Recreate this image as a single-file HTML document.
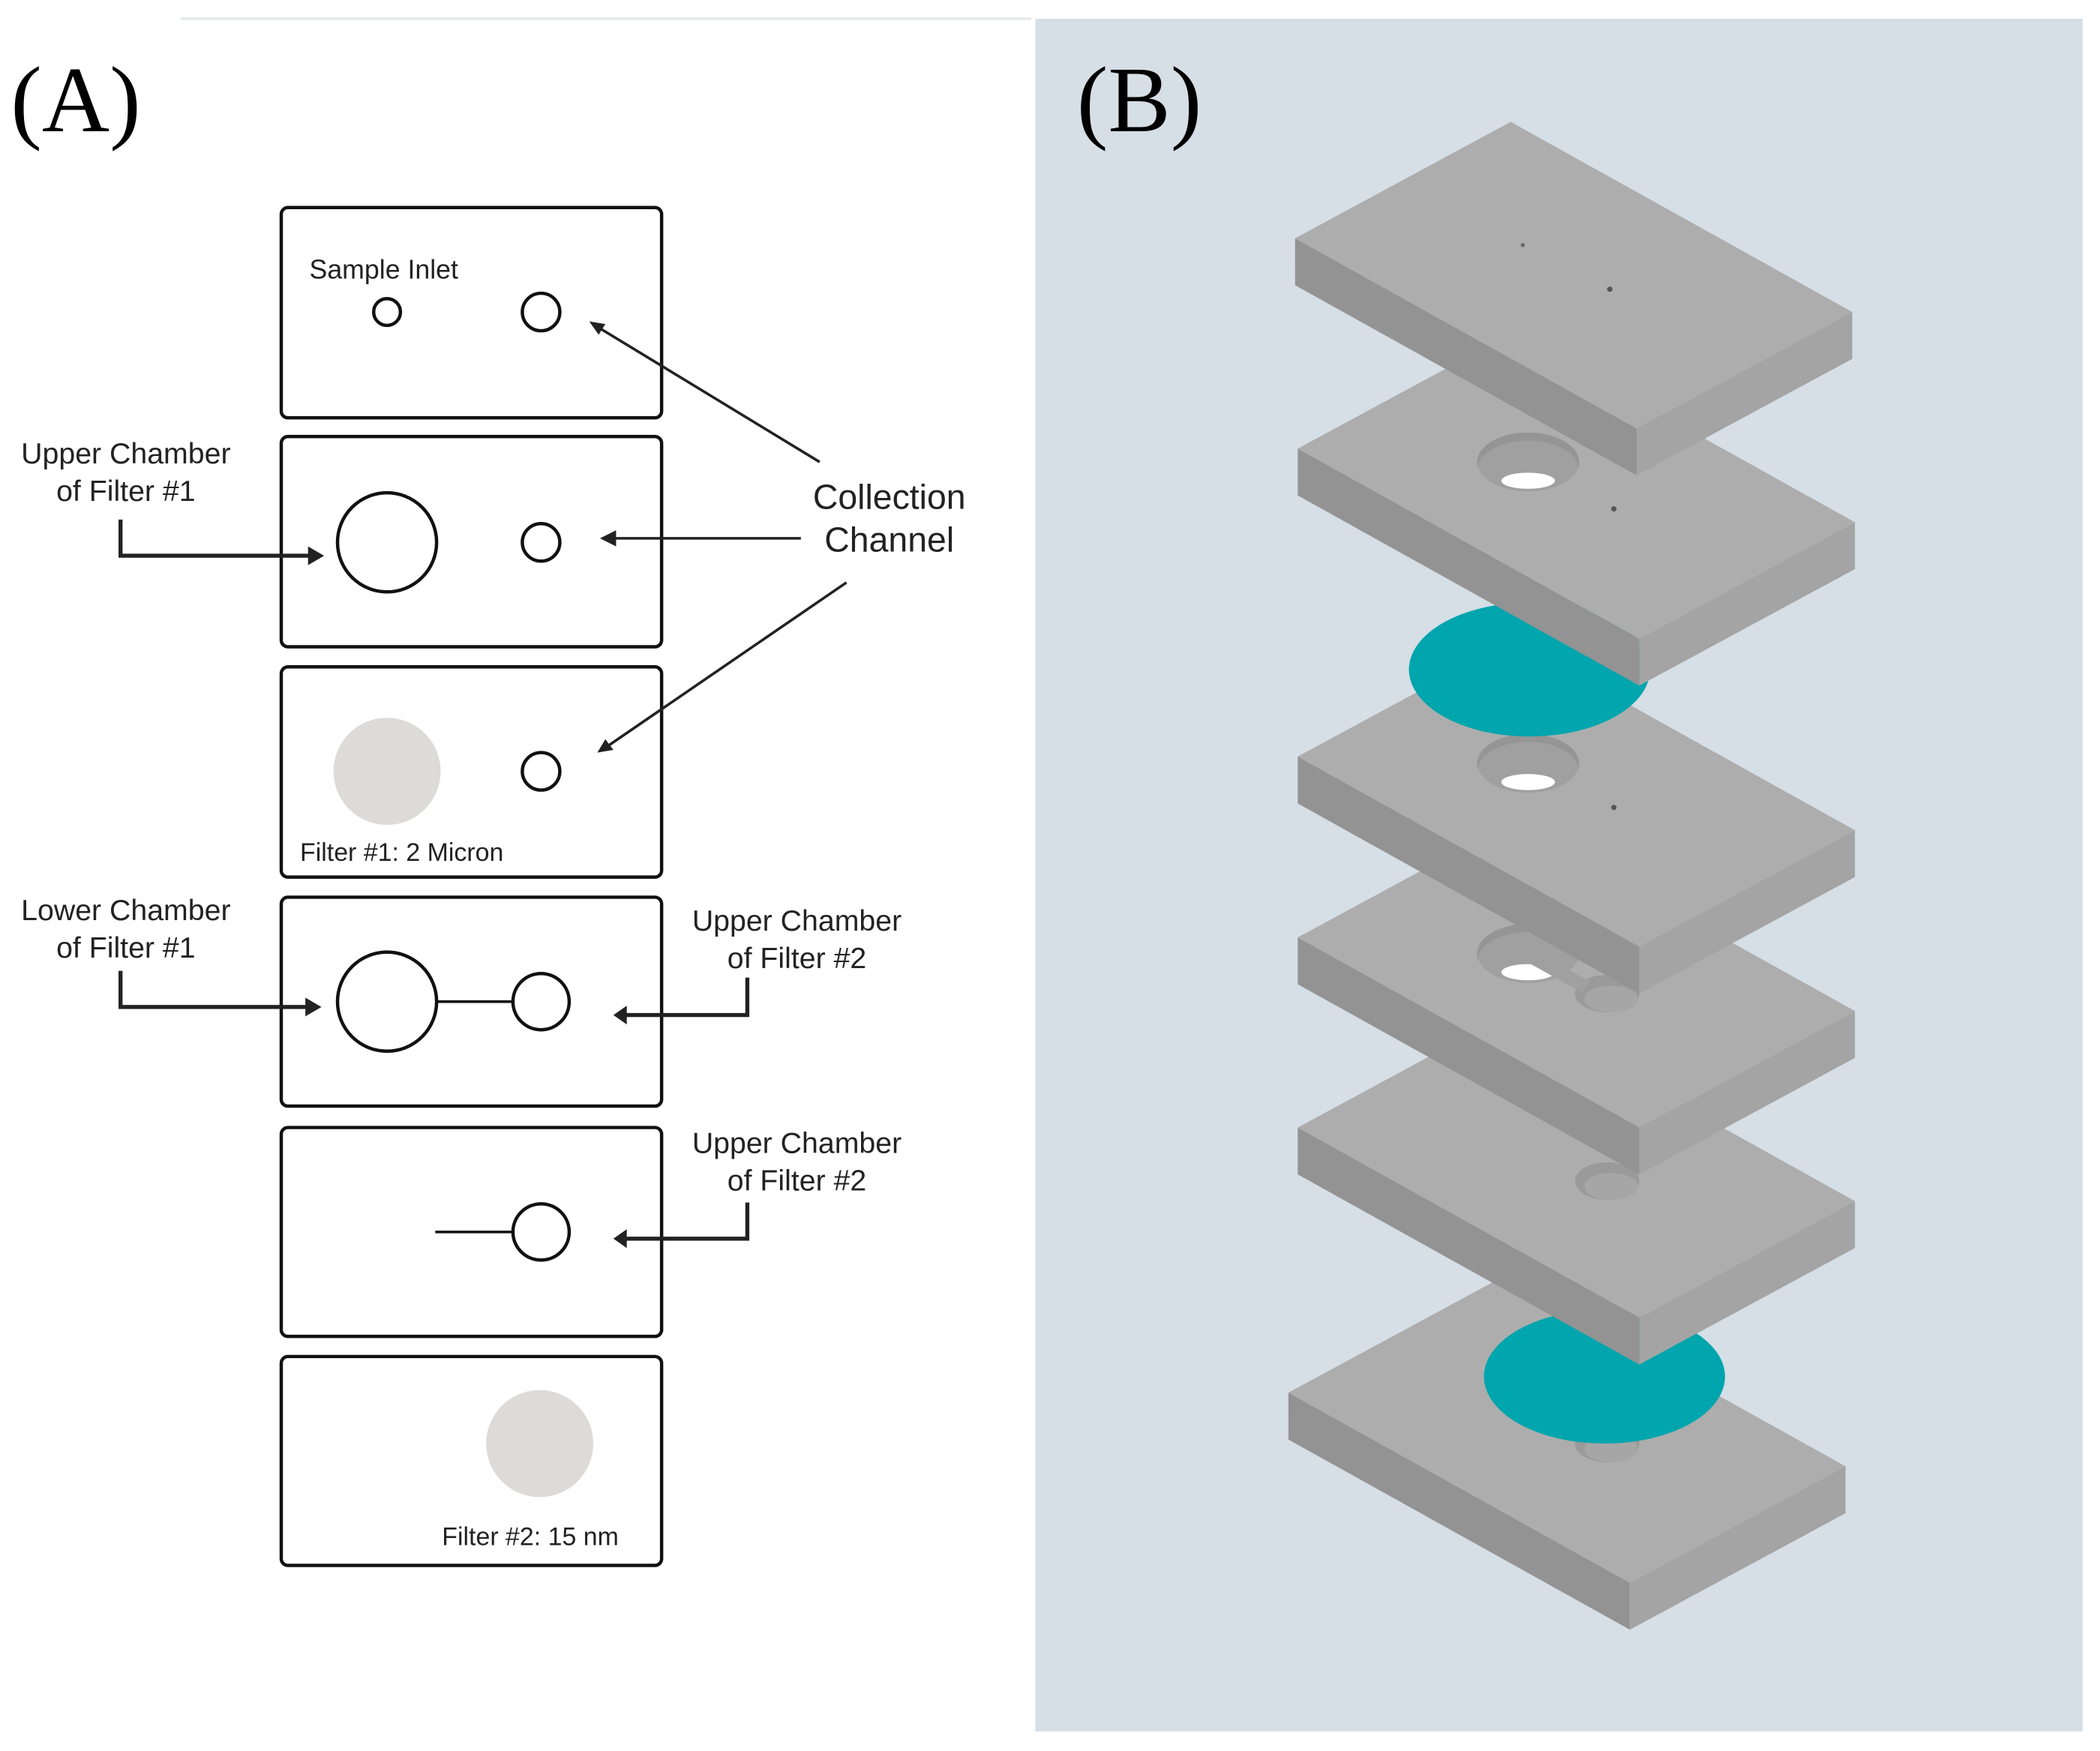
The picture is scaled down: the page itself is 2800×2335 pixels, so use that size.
<!DOCTYPE html>
<html><head><meta charset="utf-8"><style>html,body{margin:0;padding:0;background:#fff}svg{display:block}</style></head>
<body>
<svg width="2800" height="2335" viewBox="0 0 1568 1307.6" xmlns="http://www.w3.org/2000/svg">
<defs>
<g id="pl">
<polygon points="0,0 161,-87 416,55 255,142" fill="#adadad"/>
<polygon points="0,0 255,142 255,177 0,35" fill="#939393"/>
<polygon points="255,142 416,55 416,90 255,177" fill="#a4a4a4"/>
</g>
<g id="hole">
<ellipse cx="0" cy="0" rx="38" ry="22" fill="#a0a0a0"/>
<path d="M-38,0 A38,22 0 0 1 38,0 L38,6 A38,22 0 0 0 -38,6Z" fill="#959595"/>
<ellipse cx="0" cy="14" rx="20" ry="6" fill="#fff"/>
</g>
<g id="sh">
<ellipse cx="0" cy="0" rx="24" ry="14" fill="#9a9a9a"/>
<ellipse cx="3" cy="4" rx="20" ry="10" fill="#a6a6a6"/>
</g>
</defs>
<rect width="1568" height="1307.6" fill="#fff"/>
<line x1="135" y1="14" x2="770" y2="14" stroke="#e6e8ea" stroke-width="2"/>
<rect x="773" y="14" width="782" height="1279" fill="#d6dee6"/>

<text x="8" y="98" font-family="Liberation Serif, serif" font-size="70">(A)</text>
<text x="804" y="98" font-family="Liberation Serif, serif" font-size="70">(B)</text>

<g fill="none" stroke="#111" stroke-width="2.5">
<rect x="210" y="155" width="284" height="157" rx="5"/>
<rect x="210" y="326" width="284" height="157" rx="5"/>
<rect x="210" y="498" width="284" height="157" rx="5"/>
<rect x="210" y="670" width="284" height="156" rx="5"/>
<rect x="210" y="842" width="284" height="156" rx="5"/>
<rect x="210" y="1013" width="284" height="156" rx="5"/>
<circle cx="289" cy="233" r="10"/>
<circle cx="404" cy="233" r="14"/>
<circle cx="289" cy="405" r="37"/>
<circle cx="404" cy="405" r="14"/>
<circle cx="404" cy="576" r="14"/>
<circle cx="289" cy="748" r="37"/>
<circle cx="404" cy="748" r="21"/>
<line x1="326" y1="748" x2="383" y2="748" stroke-width="2"/>
<circle cx="404" cy="920" r="21"/>
<line x1="325" y1="920" x2="383" y2="920" stroke-width="2"/>
</g>
<circle cx="289" cy="576" r="40" fill="#dcdbda"/>
<circle cx="403" cy="1078" r="40" fill="#dcdbda"/>

<g stroke="#222" stroke-width="2" fill="none">
<line x1="612" y1="345" x2="446" y2="244"/>
<line x1="598" y1="402" x2="456" y2="402"/>
<line x1="632" y1="435" x2="454" y2="557"/>
<polyline points="90,388 90,415 234,415" stroke-width="3"/>
<polyline points="90,725 90,752 232,752" stroke-width="3"/>
<polyline points="558,730 558,758 466,758" stroke-width="3"/>
<polyline points="558,898 558,925 466,925" stroke-width="3"/>
</g>
<g fill="#222">
<polygon points="440,240 452,242 447,250"/>
<polygon points="448,402 460,396 460,408"/>
<polygon points="446,562 452,552 458,560"/>
<polygon points="242,415 230,408 230,422"/>
<polygon points="240,752 228,745 228,759"/>
<polygon points="458,758 468,751 468,765"/>
<polygon points="458,925 468,918 468,932"/>
</g>

<g font-family="Liberation Sans, sans-serif" fill="#222">
<text x="231" y="208" font-size="20">Sample Inlet</text>
<text x="94" y="346" font-size="22" text-anchor="middle">Upper Chamber</text>
<text x="94" y="374" font-size="22" text-anchor="middle">of Filter #1</text>
<text x="664" y="380" font-size="26" text-anchor="middle">Collection</text>
<text x="664" y="412" font-size="26" text-anchor="middle">Channel</text>
<text x="224" y="643" font-size="19">Filter #1: 2 Micron</text>
<text x="94" y="687" font-size="22" text-anchor="middle">Lower Chamber</text>
<text x="94" y="715" font-size="22" text-anchor="middle">of Filter #1</text>
<text x="595" y="695" font-size="22" text-anchor="middle">Upper Chamber</text>
<text x="595" y="723" font-size="22" text-anchor="middle">of Filter #2</text>
<text x="595" y="861" font-size="22" text-anchor="middle">Upper Chamber</text>
<text x="595" y="889" font-size="22" text-anchor="middle">of Filter #2</text>
<text x="330" y="1154" font-size="19">Filter #2: 15 nm</text>
</g>

<g transform="translate(962,1040)"><use href="#pl"/><g transform="translate(238,38)"><use href="#sh"/></g></g>
<ellipse cx="1198" cy="1028" rx="90" ry="50" fill="#00a5ad"/>
<g transform="translate(969,842)"><use href="#pl"/><g transform="translate(231,40)"><use href="#sh"/></g></g>
<g transform="translate(969,700)"><use href="#pl"/><g transform="translate(172,12)"><use href="#hole"/></g><g transform="translate(231,42)"><use href="#sh"/></g><rect x="172" y="8" width="50" height="10" fill="#a0a0a0" transform="rotate(29 172 12)"/></g>
<g transform="translate(969,565)"><use href="#pl"/><g transform="translate(172,5)"><use href="#hole"/></g><circle cx="236" cy="38" r="2" fill="#555"/></g>
<ellipse cx="1142" cy="500" rx="90" ry="50" fill="#00a5ad"/>
<g transform="translate(969,335)"><use href="#pl"/><g transform="translate(172,10)"><use href="#hole"/></g><circle cx="236" cy="45" r="2" fill="#555"/></g>
<g transform="translate(967,178)"><use href="#pl"/><circle cx="170" cy="5" r="1.5" fill="#666"/><circle cx="235" cy="38" r="2" fill="#555"/></g>
</svg>
</body></html>
